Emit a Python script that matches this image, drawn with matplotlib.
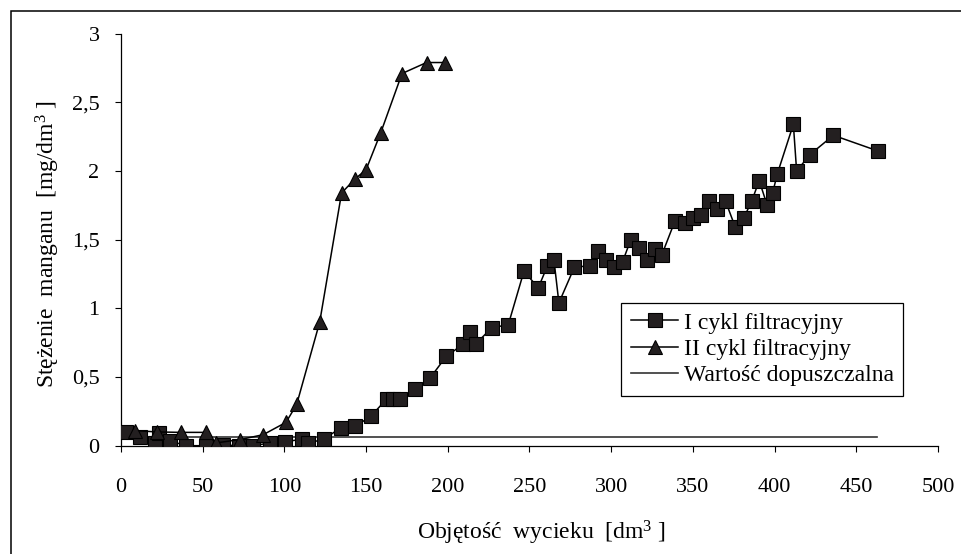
import matplotlib
matplotlib.use('Agg')
import matplotlib.pyplot as plt
from matplotlib.patches import Rectangle

# I cykl filtracyjny
x_cycle1 = [3, 11.6, 21, 23, 30, 40, 52, 62.6, 72, 81, 91, 100.6, 110.6, 114.6, 124,
            134.4, 143.4, 153, 162.6, 166.7, 170.8, 179.7, 189, 199, 209.5, 213.6, 217,
            227, 237, 246.6, 255.4, 261, 265, 268, 277.5, 287, 292, 297, 302, 307, 312,
            317, 322, 327, 331, 339, 345, 350, 355, 360, 365, 370, 376, 381, 386, 390.6,
            395.5, 398.8, 401.7, 411.5, 413.5, 421.7, 436, 463.5]
y_cycle1 = [0.10, 0.06, 0.02, 0.095, 0.034, 0.0, 0.0, 0.005, 0.0, 0.0, 0.02, 0.03, 0.046,
            0.02, 0.046, 0.13, 0.14, 0.216, 0.34, 0.34, 0.34, 0.41, 0.49, 0.65, 0.74, 0.83,
            0.74, 0.86, 0.88, 1.27, 1.15, 1.31, 1.35, 1.04, 1.30, 1.31, 1.42, 1.35, 1.30,
            1.34, 1.50, 1.44, 1.35, 1.43, 1.39, 1.635, 1.62, 1.655, 1.68, 1.78, 1.72, 1.78,
            1.59, 1.655, 1.78, 1.93, 1.75, 1.84, 1.98, 2.34, 2.00, 2.12, 2.26, 2.145]

# II cykl filtracyjny
x_cycle2 = [8.6, 22, 37, 52, 58, 73, 87, 101, 107.5, 121.6, 135, 143, 150, 159, 172, 187, 198]
y_cycle2 = [0.11, 0.10, 0.097, 0.097, 0.02, 0.045, 0.08, 0.17, 0.30, 0.90, 1.84, 1.94,
            2.01, 2.28, 2.71, 2.79, 2.79]

# Wartość dopuszczalna
x_limit = [0, 462.5]
y_limit = [0.06, 0.06]

x_ticks = [0, 50, 100, 150, 200, 250, 300, 350, 400, 450, 500]
y_ticks = [0, 0.5, 1, 1.5, 2, 2.5, 3]
y_ticklabels = ['0', '0,5', '1', '1,5', '2', '2,5', '3']

SERIF = 'Liberation Serif'
plt.rcParams['font.family'] = SERIF
plt.rcParams['mathtext.fontset'] = 'custom'
plt.rcParams['mathtext.rm'] = SERIF
plt.rcParams['mathtext.it'] = SERIF + ':italic'

MARK = '#231F20'

fig = plt.figure(figsize=(9.62, 5.54), dpi=100, facecolor='white')
ax = fig.add_axes([0.1258, 0.1955, 0.8492, 0.7437])

ax.plot(x_cycle1, y_cycle1, color='black', lw=1.1, marker='s', markersize=10.5,
        markerfacecolor=MARK, markeredgecolor='black', markeredgewidth=0.8,
        label='I cykl filtracyjny', zorder=3)
ax.plot(x_cycle2, y_cycle2, color='black', lw=1.1, marker='^', markersize=10,
        markerfacecolor=MARK, markeredgecolor='black', markeredgewidth=0.8,
        label='II cykl filtracyjny', zorder=4)
ax.plot(x_limit, y_limit, color='#333333', lw=1.2, label='Wartość dopuszczalna', zorder=2)

ax.set_xlim(0, 500)
ax.set_ylim(0, 3)
ax.set_xticks(x_ticks)
ax.set_xticklabels([str(t) for t in x_ticks])
ax.set_yticks(y_ticks)
ax.set_yticklabels(y_ticklabels)
ax.tick_params(axis='x', direction='out', length=4, width=0.8, pad=19, labelsize=16)
ax.tick_params(axis='y', direction='out', length=4.5, width=0.8, pad=11, labelsize=16)

for side in ['top', 'right']:
    ax.spines[side].set_visible(False)
for side in ['left', 'bottom']:
    ax.spines[side].set_linewidth(0.9)

ax.set_xlabel(r'Objętość  wycieku  [dm$^{\mathrm{3}}$ ]', fontsize=17)
ax.set_ylabel(r'Stężenie  manganu  [mg/dm$^{\mathrm{3}}$ ]', fontsize=17)
ax.xaxis.set_label_coords(0.514, -0.177)
ax.yaxis.set_label_coords(-0.072, 0.49)

leg = ax.legend(loc='upper left', bbox_to_anchor=(0.646, 0.4536),
                bbox_transform=fig.transFigure, fontsize=17, frameon=True,
                fancybox=False, edgecolor='black', framealpha=1,
                handlelength=2.0, handletextpad=0.25, borderpad=0.4,
                labelspacing=0.2, borderaxespad=0)
leg.get_frame().set_linewidth(0.9)

# chart-area border
fig.patches.append(Rectangle((11 / 962, -0.1), 1.2, 1 - 11 / 554 + 0.1,
                             transform=fig.transFigure, fill=False,
                             edgecolor='black', linewidth=1.1, clip_on=False))

fig.savefig('out.png', dpi=100, facecolor='white')
